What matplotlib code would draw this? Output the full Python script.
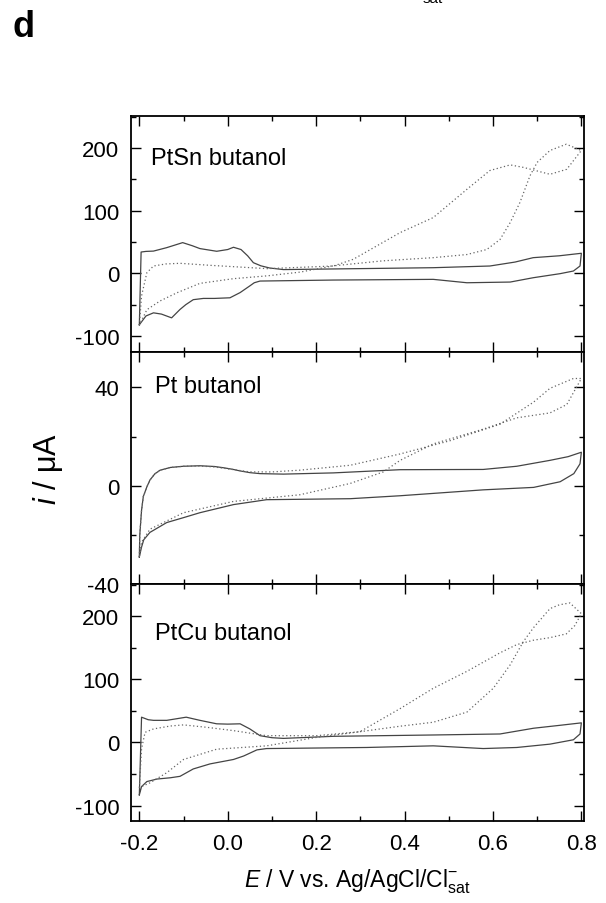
import matplotlib
matplotlib.use("Agg")
import matplotlib.pyplot as plt
from matplotlib.ticker import MultipleLocator

plt.rcParams['font.family'] = ['Liberation Sans', 'DejaVu Sans']
plt.rcParams['axes.unicode_minus'] = False
plt.rcParams['mathtext.fontset'] = 'custom'
plt.rcParams['mathtext.rm'] = 'Liberation Sans'
plt.rcParams['mathtext.it'] = 'Liberation Sans:italic'

# ---- PtSn butanol ----
ptsn_solid_fwd_E = [-0.200, -0.196, -0.185, -0.168, -0.138, -0.102, -0.080, -0.063, -0.025, 0.000,
                    0.013, 0.030, 0.045, 0.058, 0.075, 0.095, 0.126, 0.239, 0.465, 0.593,
                    0.650, 0.691, 0.750, 0.800]
ptsn_solid_fwd_i = [-82, 34, 35, 35.5, 41, 49, 44, 39.5, 35.2, 38,
                    41.6, 38, 28, 17, 12, 8.5, 6, 7, 9, 11.7,
                    18, 25, 28, 32]
ptsn_solid_rev_E = [0.800, 0.797, 0.782, 0.752, 0.691, 0.639, 0.541, 0.465, 0.239, 0.073,
                    0.060, 0.050, 0.028, 0.005, -0.030, -0.055, -0.078, -0.095, -0.108, -0.127,
                    -0.150, -0.168, -0.185, -0.200]
ptsn_solid_rev_i = [32, 11.7, 3.7, -0.5, -7, -13.9, -15, -9.6, -10.7, -12.3,
                    -15, -20, -30.7, -39, -40, -40, -42, -50, -57.6, -71,
                    -65, -63, -68, -82]
ptsn_dot_fwd_E = [-0.200, -0.195, -0.183, -0.168, -0.140, -0.108, -0.040, 0.089, 0.239, 0.284,
                  0.390, 0.465, 0.541, 0.593, 0.639, 0.669, 0.729, 0.767, 0.800]
ptsn_dot_fwd_i = [-83, -36, 1, 11.7, 15, 16, 12.8, 7.5, 11.7, 22.4,
                  65, 89, 134, 164, 173, 169, 158, 166, 196]
ptsn_dot_rev_E = [0.800, 0.766, 0.729, 0.700, 0.684, 0.661, 0.639, 0.616, 0.586, 0.541,
                  0.465, 0.352, 0.239, 0.164, 0.089, 0.013, -0.063, -0.115, -0.153, -0.183, -0.200]
ptsn_dot_rev_i = [212, 206, 196, 177, 156, 113, 81, 54, 38, 30,
                  25, 20, 12, 2, -4, -8.5, -16, -31, -44, -58, -83]

# ---- Pt butanol ----
pt_solid_fwd_E = [-0.200, -0.199, -0.195, -0.191, -0.183, -0.176, -0.165, -0.153, -0.130, -0.100,
                  -0.063, -0.030, -0.010, 0.010, 0.028, 0.050, 0.073, 0.126, 0.239, 0.390,
                  0.578, 0.654, 0.729, 0.770, 0.800]
pt_solid_fwd_i = [-29, -20, -10, -4.4, -0.5, 2.3, 4.8, 6.3, 7.4, 7.9,
                  8.1, 7.8, 7.3, 6.7, 6.0, 5.3, 4.9, 4.7, 5.2, 6.5,
                  6.6, 7.9, 10.3, 11.8, 13.6]
pt_solid_rev_E = [0.800, 0.797, 0.783, 0.752, 0.692, 0.578, 0.390, 0.277, 0.088, 0.013,
                  -0.063, -0.100, -0.138, -0.176, -0.190, -0.195, -0.200]
pt_solid_rev_i = [13.6, 8.9, 4.9, 1.6, -0.7, -1.7, -4.1, -5.3, -5.7, -7.7,
                  -11, -13, -15, -19, -22, -25, -29]
pt_dot_fwd_E = [-0.200, -0.199, -0.195, -0.191, -0.183, -0.176, -0.165, -0.153, -0.130, -0.100,
                -0.063, -0.030, 0.010, 0.050, 0.100, 0.163, 0.277, 0.390, 0.503, 0.616,
                0.692, 0.729, 0.782, 0.800]
pt_dot_fwd_i = [-29, -20, -10, -4.4, -0.5, 2.3, 4.8, 6.3, 7.4, 7.9,
                8.0, 7.6, 6.6, 5.6, 5.6, 6.3, 8.3, 12.9, 18.3, 25,
                34, 39.6, 43.6, 43.6]
pt_dot_rev_E = [0.800, 0.767, 0.729, 0.654, 0.578, 0.465, 0.390, 0.352, 0.277, 0.163,
                0.013, -0.100, -0.176, -0.195, -0.200]
pt_dot_rev_i = [39.6, 33, 29.6, 27.6, 23, 17, 10.3, 5.6, 0.9, -3.7,
                -6.4, -11, -17.7, -23, -29]

# ---- PtCu butanol ----
ptcu_solid_fwd_E = [-0.200, -0.195, -0.180, -0.168, -0.138, -0.094, -0.063, -0.025, 0.000, 0.028,
                    0.050, 0.073, 0.100, 0.126, 0.239, 0.465, 0.616, 0.692, 0.750, 0.800]
ptcu_solid_fwd_i = [-83, 40, 36, 35, 35, 40, 35, 29.5, 29, 29.5,
                    21.4, 10.7, 7.5, 6.4, 9.7, 11.8, 13.4, 22.5, 27, 31]
ptcu_solid_rev_E = [0.800, 0.797, 0.782, 0.729, 0.654, 0.578, 0.465, 0.314, 0.088, 0.066,
                    0.036, 0.013, -0.040, -0.078, -0.108, -0.130, -0.160, -0.183, -0.195, -0.200]
ptcu_solid_rev_i = [31, 13.4, 4.2, -2.7, -8, -9.7, -5.4, -8, -9.7, -11.8,
                    -21.5, -27, -34, -42, -53.7, -56, -58, -62, -70, -83]
ptcu_dot_fwd_E = [-0.200, -0.195, -0.187, -0.168, -0.130, -0.100, -0.048, 0.013, 0.088, 0.201,
                  0.299, 0.390, 0.465, 0.541, 0.616, 0.654, 0.692, 0.729, 0.766, 0.785, 0.800]
ptcu_dot_fwd_i = [-72, -10, 16, 21.4, 26, 27.8, 24, 18.7, 10.7, 10.7,
                  17, 53.6, 85.8, 112.6, 142, 155, 162, 166, 172, 185, 204]
ptcu_dot_rev_E = [0.800, 0.774, 0.750, 0.729, 0.692, 0.669, 0.639, 0.601, 0.541, 0.465,
                  0.390, 0.299, 0.201, 0.088, -0.025, -0.100, -0.138, -0.176, -0.195, -0.200]
ptcu_dot_rev_i = [217, 221, 218, 212, 182, 160, 123, 86, 48, 32,
                  25.7, 17, 8, -5.4, -10.7, -27, -48, -64, -70, -72]

panel_names = ["PtSn butanol", "Pt butanol", "PtCu butanol"]
x_ticks = [-0.2, 0.0, 0.2, 0.4, 0.6, 0.8]
y_ticks_outer = [-100, 0, 100, 200]
y_ticks_pt = [-40, 0, 40]

SOLID_C = '#444444'
DOT_C = '#666666'

fig = plt.figure(figsize=(6.06, 9.04), dpi=100)
W, H = 606.0, 904.0
left, right = 130.5, 584.0
bounds = [(117.0, 352.7), (352.7, 585.0), (585.0, 821.7)]


def make_ax(top_px, bot_px):
    return fig.add_axes([left / W, 1 - bot_px / H, (right - left) / W, (bot_px - top_px) / H])


def style(ax, ylim, ymin, yticks, show_x):
    ax.set_xlim(-0.22, 0.806)
    ax.set_ylim(*ylim)
    ax.xaxis.set_major_locator(MultipleLocator(0.2))
    ax.xaxis.set_minor_locator(MultipleLocator(0.1))
    ax.set_yticks(yticks)
    ax.yaxis.set_minor_locator(MultipleLocator(ymin))
    ax.tick_params(which='both', direction='in', top=True, right=True, width=1.0,
                   labelsize=16, color='black')
    ax.tick_params(which='major', length=7.5)
    ax.tick_params(which='minor', length=3.5)
    ax.tick_params(axis='y', pad=8)
    ax.tick_params(axis='x', pad=9)
    if show_x:
        ax.set_xticks(x_ticks)
        ax.set_xticklabels(["%.1f" % v for v in x_ticks])
    else:
        ax.tick_params(axis='x', labelbottom=False)
    for s in ax.spines.values():
        s.set_linewidth(1.3)


def draw(ax, sf, sr, df, dr):
    ax.plot(sf[0] + sr[0][1:], sf[1] + sr[1][1:], color=SOLID_C, lw=0.9)
    ax.plot(df[0] + dr[0][1:], df[1] + dr[1][1:], color=DOT_C, lw=0.9,
            linestyle=(0, (1, 2)))


ax1 = make_ax(*bounds[0])
draw(ax1, (ptsn_solid_fwd_E, ptsn_solid_fwd_i), (ptsn_solid_rev_E, ptsn_solid_rev_i),
     (ptsn_dot_fwd_E, ptsn_dot_fwd_i), (ptsn_dot_rev_E, ptsn_dot_rev_i))
style(ax1, (-125, 251), 50, y_ticks_outer, False)
ax1.text(0.0445, 0.796, panel_names[0], transform=ax1.transAxes, fontsize=17, va='baseline')

ax2 = make_ax(*bounds[1])
draw(ax2, (pt_solid_fwd_E, pt_solid_fwd_i), (pt_solid_rev_E, pt_solid_rev_i),
     (pt_dot_fwd_E, pt_dot_fwd_i), (pt_dot_rev_E, pt_dot_rev_i))
style(ax2, (-40, 54.5), 20, y_ticks_pt, False)
ax2.text(0.054, 0.826, panel_names[1], transform=ax2.transAxes, fontsize=17, va='baseline')

ax3 = make_ax(*bounds[2])
draw(ax3, (ptcu_solid_fwd_E, ptcu_solid_fwd_i), (ptcu_solid_rev_E, ptcu_solid_rev_i),
     (ptcu_dot_fwd_E, ptcu_dot_fwd_i), (ptcu_dot_rev_E, ptcu_dot_rev_i))
style(ax3, (-124, 251), 50, y_ticks_outer, True)
ax3.text(0.054, 0.768, panel_names[2], transform=ax3.transAxes, fontsize=17, va='baseline')

ax3.set_xlabel(r'$E$ / V vs. Ag/AgCl/Cl$^{\mathrm{-}}_{\mathrm{sat}}$', fontsize=16.5, labelpad=9)
fig.text(48 / W, 1 - 469 / H, r'$i$ / μA', rotation=90, fontsize=22,
         ha='center', va='center')

fig.text(13 / W, 1 - 37 / H, 'd', fontsize=26, fontweight='bold', va='baseline')
fig.text(423 / W, 1 - 3 / H, 'sat', fontsize=11, va='baseline')

fig.savefig('out.png', dpi=100)
